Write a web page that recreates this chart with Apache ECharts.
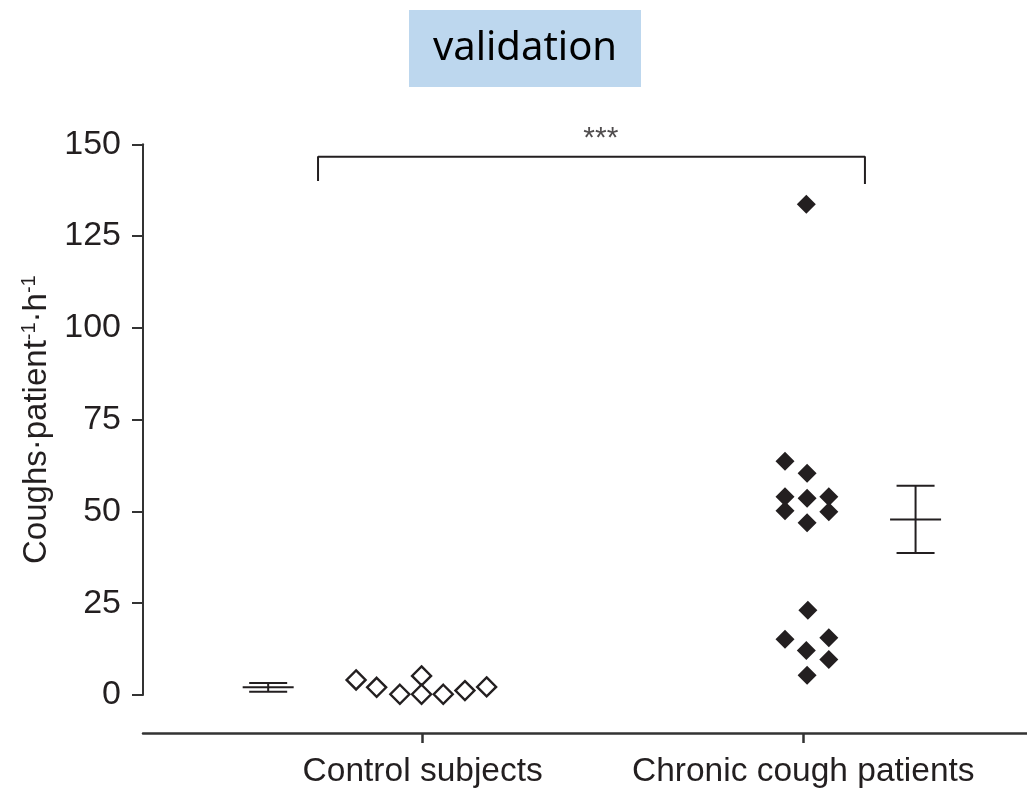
<!DOCTYPE html>
<html>
<head>
<meta charset="utf-8">
<script src="https://cdn.jsdelivr.net/npm/echarts@6/dist/echarts.min.js"></script>
<style>html,body{margin:0;padding:0;background:#fff}#c{width:1027px;height:789px}</style>
</head>
<body>
<div id="c"></div>
<script>
// ---- data ----
var categories = ['Control subjects', 'Chronic cough patients'];
var yTicks = [0, 25, 50, 75, 100, 125, 150];
// Control subjects (open diamonds): horizontal jitter around category 1, and values
var controlX = [0.825, 0.879, 0.940, 0.997, 0.997, 1.054, 1.111, 1.168];
var controlY = [4.1, 2.1, 0.2, 5.2, 0.2, 0.2, 1.2, 2.2];
// Chronic cough patients (filled diamonds)
var chronicX = [2.008, 1.952, 2.010, 1.952, 2.010, 2.067, 1.952, 2.067, 2.010, 2.012, 1.952, 2.067, 2.008, 2.067, 2.010];
var chronicY = [133.7, 63.7, 60.4, 54.0, 53.6, 54.0, 50.2, 49.9, 46.9, 23.1, 15.2, 15.6, 12.1, 9.7, 5.4];
// mean and error bars: [x, mean, low, high]
var errorBars = [
  [0.594, 2.1, 0.9, 3.3],
  [2.295, 47.8, 38.7, 57.0]
];
// significance bracket
var bracketX = [0.725, 2.162];
var bracketTop = 146.6;
var bracketFeet = [140.0, 139.2];
var sigLabel = '***';
var sigPos = [1.468, 151.5];

var ink = '#231f20';
var chart = echarts.init(document.getElementById('c'));

var bracketData = [
  [bracketX[0], bracketFeet[0]],
  [bracketX[0], bracketTop],
  [bracketX[1], bracketTop],
  [bracketX[1], bracketFeet[1]]
];

chart.setOption({
  animation: false,
  backgroundColor: '#fff',
  graphic: [
    { type: 'rect', shape: { x: 409, y: 10, width: 232, height: 77 }, style: { fill: '#BDD7EE' } },
    { type: 'text', x: 525, y: 49, style: { text: 'validation', fontFamily: 'Noto Sans', fontSize: 40, fill: '#000', align: 'center', verticalAlign: 'middle' } }
  ],
  grid: { left: 143, right: 0, top: 144.3, bottom: 94 },
  xAxis: {
    type: 'value', min: 0.2651, max: 2.5878,
    offset: 38,
    axisLine: { show: true, onZero: false, lineStyle: { color: '#333', width: 2.5 } },
    axisTick: { show: true, customValues: [1, 2], length: 10, lineStyle: { color: '#333', width: 2.5 } },
    axisLabel: {
      customValues: [1, 2], margin: 22,
      formatter: function (v) { return categories[Math.round(v) - 1]; },
      color: ink, fontFamily: 'Liberation Sans', fontSize: 33.5
    },
    splitLine: { show: false }
  },
  yAxis: {
    type: 'value', min: 0, max: 150, interval: 25,
    name: 'Coughs·patient{s|-1}·h{s|-1}',
    nameLocation: 'middle', nameGap: 88, nameRotate: 90,
    nameTextStyle: {
      color: ink, fontFamily: 'Liberation Sans', fontSize: 33,
      rich: { s: { fontSize: 20, verticalAlign: 'top', color: ink, fontFamily: 'Liberation Sans', padding: [0, 0, 14, 0] } }
    },
    axisLine: { show: true, lineStyle: { color: '#333', width: 2 } },
    axisTick: { show: true, length: 11, lineStyle: { color: '#333', width: 2 } },
    axisLabel: { margin: 22, color: ink, fontFamily: 'Liberation Sans', fontSize: 34,
      customValues: yTicks },
    splitLine: { show: false }
  },
  series: [
    {
      type: 'scatter', symbol: 'diamond', symbolSize: 19, clip: false,
      itemStyle: { color: '#fff', borderColor: ink, borderWidth: 2.4, opacity: 1 },
      data: controlX.map(function (x, i) { return [x, controlY[i]]; })
    },
    {
      type: 'scatter', symbol: 'diamond', symbolSize: 19, clip: false,
      itemStyle: { color: ink, opacity: 1 },
      data: chronicX.map(function (x, i) { return [x, chronicY[i]]; })
    },
    {
      type: 'custom', clip: false,
      renderItem: function (params, api) {
        var x = api.value(0);
        var m = api.coord([x, api.value(1)]);
        var lo = api.coord([x, api.value(2)]);
        var hi = api.coord([x, api.value(3)]);
        var st = { stroke: ink, lineWidth: 2 };
        return { type: 'group', children: [
          { type: 'line', shape: { x1: lo[0], y1: lo[1], x2: hi[0], y2: hi[1] }, style: st },
          { type: 'line', shape: { x1: lo[0] - 19, y1: lo[1], x2: lo[0] + 19, y2: lo[1] }, style: st },
          { type: 'line', shape: { x1: hi[0] - 19, y1: hi[1], x2: hi[0] + 19, y2: hi[1] }, style: st },
          { type: 'line', shape: { x1: m[0] - 25.5, y1: m[1], x2: m[0] + 25.5, y2: m[1] }, style: st }
        ] };
      },
      data: errorBars
    },
    {
      type: 'line', clip: false, symbol: 'none',
      lineStyle: { color: ink, width: 2 },
      data: bracketData
    },
    {
      type: 'scatter', symbolSize: 0, clip: false,
      label: { show: true, position: 'inside', formatter: sigLabel, color: ink, fontFamily: 'Liberation Sans', fontSize: 30 },
      data: [sigPos]
    }
  ]
});
</script>
</body>
</html>
